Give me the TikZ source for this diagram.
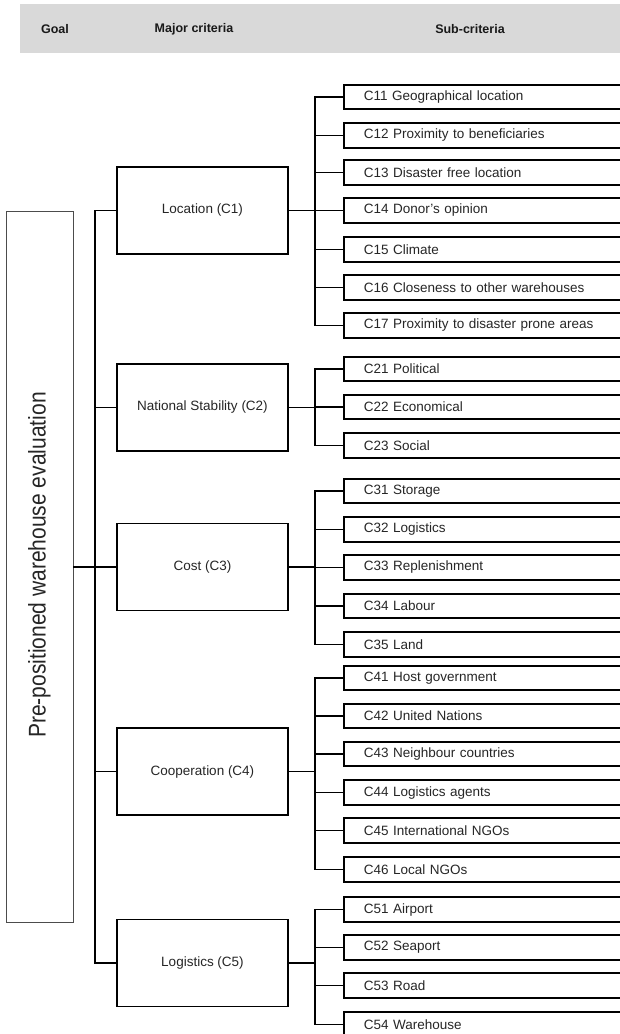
\documentclass[tikz,border=0pt]{standalone}
\usepackage{fontspec}
\setmainfont{Liberation Sans}
\begin{document}
\begin{tikzpicture}[x=1pt,y=-1pt,
  every node/.style={font=\fontsize{13.5}{16}\selectfont, text=black!85},
  head/.style={font=\fontsize{12.5}{15}\selectfont\bfseries, text=black!90},
  critbox/.style={draw=black, line width=1.6pt, minimum width=171pt, minimum height=87pt, inner sep=0pt},
  subbox/.style={draw=black, line width=1.6pt, anchor=west, text width=260pt, inner xsep=20pt, inner ysep=0pt, minimum height=24.5pt, align=left},
  goalbox/.style={draw=black!70, line width=0.9pt, minimum width=67pt, minimum height=711pt, inner sep=0pt},
  link/.style={draw=black, line width=1.6pt}
]
\useasboundingbox (0,0) rectangle (620,1034);
\clip (0,0) rectangle (620,1034);
\fill[white] (0,0) rectangle (620,1034);

% header
\fill[black!15] (20,4) rectangle (620,53);
\node[head] (hgoal) at (55,29) {Goal};
\node[head] (hmajor) at (194,29) {Major criteria};
\node[head] (hsub) at (470,29) {Sub-criteria};

% goal
\node[goalbox] (goal) at (39.5,566.5) {};
\node[rotate=90, font=\fontsize{21}{24}\selectfont, yscale=1.15] (goaltext) at (39.5,565) {Pre-positioned warehouse evaluation};

% major criteria
\node[critbox] (c1) at (202.5,210.5) {Location (C1)};
\node[critbox] (c2) at (202.5,407.5) {National Stability (C2)};
\node[critbox] (c3) at (202.5,567) {Cost (C3)};
\node[critbox] (c4) at (202.5,771.5) {Cooperation (C4)};
\node[critbox] (c5) at (202.5,963) {Logistics (C5)};

% sub-criteria
\node[subbox] (s11) at (343,97) {C11 Geographical location};
\node[subbox] (s12) at (343,135.5) {C12 Proximity to beneficiaries};
\node[subbox] (s13) at (343,172.5) {C13 Disaster free location};
\node[subbox] (s14) at (343,210.5) {C14 Donor's opinion};
\node[subbox] (s15) at (343,249.5) {C15 Climate};
\node[subbox] (s16) at (343,287.5) {C16 Closeness to other warehouses};
\node[subbox] (s17) at (343,325.5) {C17 Proximity to disaster prone areas};

\node[subbox] (s21) at (343,369) {C21 Political};
\node[subbox] (s22) at (343,407) {C22 Economical};
\node[subbox] (s23) at (343,445.5) {C23 Social};

\node[subbox] (s31) at (343,491) {C31 Storage};
\node[subbox] (s32) at (343,529.5) {C32 Logistics};
\node[subbox] (s33) at (343,567.5) {C33 Replenishment};
\node[subbox] (s34) at (343,606) {C34 Labour};
\node[subbox] (s35) at (343,644.5) {C35 Land};

\node[subbox] (s41) at (343,678) {C41 Host government};
\node[subbox] (s42) at (343,716) {C42 United Nations};
\node[subbox] (s43) at (343,754) {C43 Neighbour countries};
\node[subbox] (s44) at (343,792.5) {C44 Logistics agents};
\node[subbox] (s45) at (343,830.5) {C45 International NGOs};
\node[subbox] (s46) at (343,869.5) {C46 Local NGOs};

\node[subbox] (s51) at (343,909.5) {C51 Airport};
\node[subbox] (s52) at (343,947.5) {C52 Seaport};
\node[subbox] (s53) at (343,985.5) {C53 Road};
\node[subbox] (s54) at (343,1024.5) {C54 Warehouse};

% goal to criteria
\path[link] (goal.east |- c3.west) -- (c3.west);
\path[link] (c1.west) -- ++(-21,0) |- (c5.west);
\path[link] (c2.west) -- ++(-21,0);
\path[link] (c4.west) -- ++(-21,0);

% criteria to sub-criteria
\foreach \c in {1,...,5} {
  \path[link] (c\c.east) -- ++(27,0);
}
\path[link] (s11.west) -- ++(-28,0) |- (s17.west);
\foreach \s in {12,...,16} { \path[link] (s\s.west) -- ++(-28,0); }
\path[link] (s21.west) -- ++(-28,0) |- (s23.west);
\path[link] (s22.west) -- ++(-28,0);
\path[link] (s31.west) -- ++(-28,0) |- (s35.west);
\foreach \s in {32,33,34} { \path[link] (s\s.west) -- ++(-28,0); }
\path[link] (s41.west) -- ++(-28,0) |- (s46.west);
\foreach \s in {42,...,45} { \path[link] (s\s.west) -- ++(-28,0); }
\path[link] (s51.west) -- ++(-28,0) |- (s54.west);
\foreach \s in {52,53} { \path[link] (s\s.west) -- ++(-28,0); }
\end{tikzpicture}
\end{document}
